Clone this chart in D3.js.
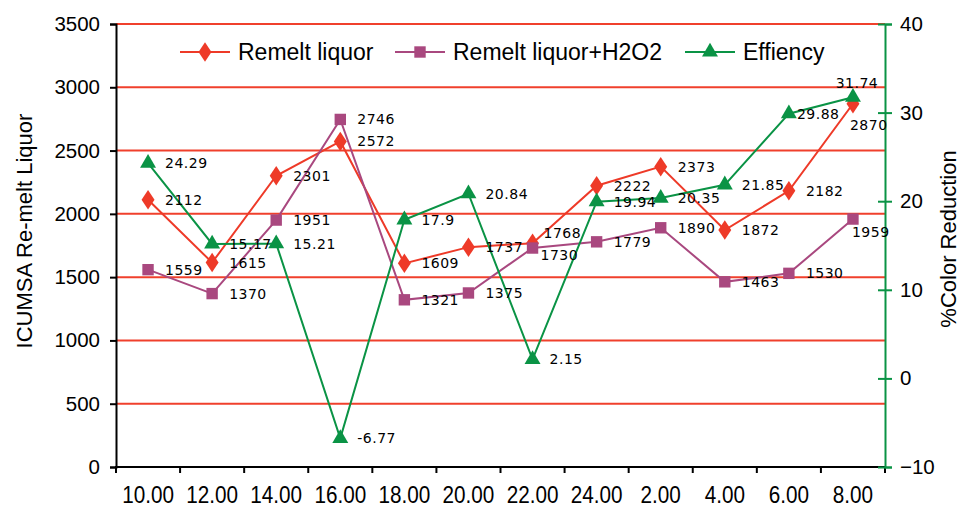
<!DOCTYPE html>
<html>
<head>
<meta charset="utf-8">
<script src="https://cdn.jsdelivr.net/npm/d3@7"></script>
<style>
  body { margin: 0; background: #fff; }
  svg { display: block; }
  .lbl { font-family: "DejaVu Sans", sans-serif; font-size: 14px; fill: #000; }
  .tick-lbl { font-family: "Liberation Sans", Arial, sans-serif; font-size: 20.5px; fill: #000; }
</style>
</head>
<body>
<div id="chart"></div>
<script>
// data
var hours = ["10.00", "12.00", "14.00", "16.00", "18.00", "20.00", "22.00", "24.00", "2.00", "4.00", "6.00", "8.00"];
var remelt = [2112, 1615, 2301, 2572, 1609, 1737, 1768, 2222, 2373, 1872, 2182, 2870];
var remeltH2O2 = [1559, 1370, 1951, 2746, 1321, 1375, 1730, 1779, 1890, 1463, 1530, 1959];
var effiency = [24.29, 15.17, 15.21, -6.77, 17.9, 20.84, 2.15, 19.94, 20.35, 21.85, 29.88, 31.74];
var leftTicks = [0, 500, 1000, 1500, 2000, 2500, 3000, 3500];
var rightTicks = [-10, 0, 10, 20, 30, 40];

var width = 960, height = 508;
var margin = {top: 24, right: 75, bottom: 41, left: 116};

var svg = d3.select("#chart")
  .append("svg")
    .attr("width", width)
    .attr("height", height);

var x = d3.scaleBand()
  .domain(hours)
  .range([margin.left, width - margin.right]);

var y = d3.scaleLinear()
  .domain([0, 3500])
  .range([height - margin.bottom, margin.top]);

var y2 = d3.scaleLinear()
  .domain([-10, 40])
  .range([height - margin.bottom, margin.top]);

function cx(i) { return x(hours[i]) + x.bandwidth() / 2; }

// red gridlines
svg.append("g").selectAll("line")
  .data(leftTicks.slice(1))
  .enter().append("line")
    .attr("x1", margin.left)
    .attr("x2", width - margin.right)
    .attr("y1", d => y(d))
    .attr("y2", d => y(d))
    .style("stroke", "#f0402c")
    .style("stroke-width", 2);

// left axis
var yAxis = svg.append("g")
  .attr("transform", "translate(" + margin.left + ",0)")
  .call(d3.axisLeft(y).tickValues(leftTicks).tickFormat(d3.format("d")).tickSize(6).tickPadding(10));
yAxis.select(".domain").attr("stroke", "#000").attr("stroke-width", 2);
yAxis.selectAll(".tick line").attr("stroke", "#000").attr("stroke-width", 2);
yAxis.selectAll(".tick text").attr("class", "tick-lbl").attr("font-size", null).attr("font-family", null);

// bottom axis: ticks at band edges, labels in band centers
var xg = svg.append("g");
xg.append("line")
  .attr("x1", margin.left - 1).attr("x2", width - margin.right)
  .attr("y1", y(0)).attr("y2", y(0))
  .style("stroke", "#000").style("stroke-width", 2);
xg.selectAll("line.edge")
  .data(hours.concat(["end"]))
  .enter().append("line")
    .attr("class", "edge")
    .attr("x1", (d, i) => margin.left + i * x.bandwidth())
    .attr("x2", (d, i) => margin.left + i * x.bandwidth())
    .attr("y1", y(0))
    .attr("y2", y(0) + 6)
    .style("stroke", "#000").style("stroke-width", 2);
xg.selectAll("text")
  .data(hours)
  .enter().append("text")
    .attr("transform", d => "translate(" + (x(d) + x.bandwidth() / 2) + ",503) scale(0.9,1)")
    .attr("text-anchor", "middle")
    .style("font-family", "'Liberation Sans', Arial, sans-serif")
    .style("font-size", "23px")
    .text(d => d);

// right axis (green)
var y2Axis = svg.append("g")
  .attr("transform", "translate(" + (width - margin.right) + ",0)")
  .call(d3.axisRight(y2).tickValues(rightTicks).tickSize(7).tickPadding(8));
y2Axis.select(".domain").attr("stroke", "#0a9345").attr("stroke-width", 2);
y2Axis.selectAll(".tick line").attr("stroke", "#0a9345").attr("stroke-width", 2).attr("x1", -7);
y2Axis.selectAll(".tick text").attr("class", "tick-lbl").attr("font-size", null).attr("font-family", null);

// axis titles
svg.append("text")
  .attr("transform", "translate(32,231) rotate(-90)")
  .attr("text-anchor", "middle")
  .style("font-family", "'Liberation Sans', Arial, sans-serif")
  .style("font-size", "22px")
  .text("ICUMSA Re-melt Liquor");

svg.append("text")
  .attr("transform", "translate(956,239) rotate(-90)")
  .attr("text-anchor", "middle")
  .style("font-family", "'Liberation Sans', Arial, sans-serif")
  .style("font-size", "22px")
  .text("%Color Reduction");

var series = [
  {name: "Remelt liquor", values: remelt, scale: y, color: "#ee3a28", symbol: d3.symbolDiamond, size: 110},
  {name: "Remelt liquor+H2O2", values: remeltH2O2, scale: y, color: "#a9487f", symbol: d3.symbolSquare, size: 130},
  {name: "Effiency", values: effiency, scale: y2, color: "#0a9345", symbol: d3.symbolTriangle, size: 110}
];

// label nudges for the points Excel moved
var nudge = {
  "0-6": {dx: 11, dy: -10, anchor: "start"},
  "0-11": {dx: -3, dy: 21, anchor: "start"},
  "1-6": {dx: 8, dy: 7, anchor: "start"},
  "1-11": {dx: -1, dy: 13, anchor: "start"},
  "2-10": {dx: 8, dy: 0, anchor: "start"},
  "2-11": {dx: 4, dy: -14, anchor: "middle"}
};

series.forEach(function(s, k) {
  var line = d3.line()
    .x((d, i) => cx(i))
    .y(d => s.scale(d));

  svg.append("path")
    .datum(s.values)
    .attr("d", line)
    .style("fill", "none")
    .style("stroke", s.color)
    .style("stroke-width", 2);

  svg.append("g").selectAll("path")
    .data(s.values)
    .enter().append("path")
      .attr("d", d3.symbol().type(s.symbol).size(s.size))
      .attr("transform", (d, i) => "translate(" + cx(i) + "," + s.scale(d) + ")" + (s.symbol === d3.symbolDiamond ? " scale(1.15,1)" : ""))
      .style("fill", s.color);
});

// data labels drawn on top
series.forEach(function(s, k) {
  svg.append("g").selectAll("text")
    .data(s.values)
    .enter().append("text")
      .attr("class", "lbl")
      .attr("x", function(d, i) { var n = nudge[k + "-" + i]; return cx(i) + (n ? n.dx : 17); })
      .attr("y", function(d, i) { var n = nudge[k + "-" + i]; return s.scale(d) + (n ? n.dy : 0); })
      .attr("dy", "0.36em")
      .attr("text-anchor", function(d, i) { var n = nudge[k + "-" + i]; return n ? n.anchor : "start"; })
      .style("letter-spacing", "0.5px")
      .text(d => d);
});

// legend
var legendX = [180, 395, 685];
var legend = svg.append("g");
series.forEach(function(s, k) {
  var g = legend.append("g").attr("transform", "translate(" + legendX[k] + ",52)");
  g.append("line")
    .attr("x1", 0).attr("x2", 50)
    .style("stroke", s.color).style("stroke-width", 2);
  g.append("path")
    .attr("d", d3.symbol().type(s.symbol).size(s.size))
    .attr("transform", "translate(25,0)" + (s.symbol === d3.symbolDiamond ? " scale(1.15,1)" : ""))
    .style("fill", s.color);
  g.append("text")
    .attr("x", 58)
    .attr("dy", "0.36em")
    .style("font-family", "'Liberation Sans', Arial, sans-serif")
    .style("font-size", "23px")
    .text(s.name);
});
</script>
</body>
</html>
